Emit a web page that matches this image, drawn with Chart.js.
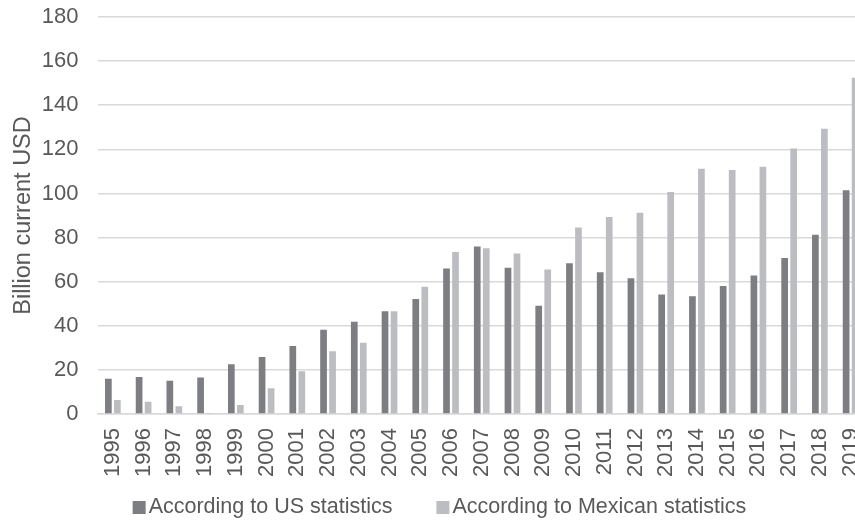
<!DOCTYPE html>
<html>
<head>
<meta charset="utf-8">
<title>US–Mexico trade statistics</title>
<script src="https://cdn.jsdelivr.net/npm/chart.js@4/dist/chart.umd.min.js"></script>
<style>
  html, body { margin: 0; padding: 0; background: #ffffff; overflow: hidden; }
  #wrap { position: relative; width: 866px; height: 522px; }
</style>
</head>
<body>
<div id="wrap"><canvas id="chart"></canvas></div>
<script>
// Years on the category axis
const years = ['1995','1996','1997','1998','1999','2000','2001','2002','2003','2004',
               '2005','2006','2007','2008','2009','2010','2011','2012','2013','2014',
               '2015','2016','2017','2018','2019'];

// Billion current USD, as reported by each side
const usStats  = [16.0, 16.8, 15.1, 16.5, 22.6, 25.8, 30.8, 38.2, 41.8, 46.6,
                  52.1, 66.0, 76.0, 66.3, 49.1, 68.3, 64.3, 61.5, 54.2, 53.4,
                  58.0, 62.8, 70.7, 81.3, 101.4];
const mexStats = [6.4, 5.6, 3.5, 0.5, 4.1, 11.7, 19.4, 28.5, 32.3, 46.6,
                  57.7, 73.4, 75.1, 72.8, 65.5, 84.6, 89.3, 91.2, 100.6, 111.2,
                  110.6, 112.1, 120.4, 129.3, 152.5];

const seriesNames  = ['According to US statistics', 'According to Mexican statistics'];
const seriesColors = ['#7d7e82', '#bcbdc0'];

const yMin = 0, yMax = 180, yStep = 20;
const yTitle = 'Billion current USD';

const FONT = '"Liberation Sans", Arial, Helvetica, sans-serif';
const TEXT = '#595959';
const GRID = '#d9d9d9';

// Legend row under the axis: small square swatch followed by the series name
const bottomKey = {
  id: 'bottomKey',
  afterDraw(chart) {
    const ctx = chart.ctx;
    ctx.save();
    ctx.font = '21.5px ' + FONT;
    ctx.textBaseline = 'middle';
    ctx.textAlign = 'left';
    const box = 13, gap = 3, itemGap = 44, cy = 507, cx = 439.5;
    const items = chart.data.datasets.map(ds => ({
      label: ds.label, color: ds.backgroundColor, w: ctx.measureText(ds.label).width
    }));
    const total = items.reduce((s, it) => s + box + gap + it.w, 0) + itemGap * (items.length - 1);
    let x = cx - total / 2;
    items.forEach(it => {
      ctx.fillStyle = it.color;
      ctx.fillRect(x, cy - 6, box, box);
      ctx.fillStyle = TEXT;
      ctx.fillText(it.label, x + box + gap, cy);
      x += box + gap + it.w + itemGap;
    });
    ctx.restore();
  }
};

new Chart(document.getElementById('chart'), {
  type: 'bar',
  data: {
    labels: years,
    datasets: [
      { label: seriesNames[0], data: usStats,  backgroundColor: seriesColors[0],
        categoryPercentage: 0.586, barPercentage: 0.744, borderWidth: 0 },
      { label: seriesNames[1], data: mexStats, backgroundColor: seriesColors[1],
        categoryPercentage: 0.586, barPercentage: 0.744, borderWidth: 0 }
    ]
  },
  options: {
    responsive: true,
    maintainAspectRatio: false,
    animation: false,
    layout: { padding: { top: 17, right: 0, bottom: 38, left: 0 } },
    plugins: {
      legend: { display: false },
      tooltip: { enabled: false }
    },
    scales: {
      x: {
        grid: { display: false, drawTicks: false },
        border: { display: true, color: GRID, width: 1.5 },
        ticks: {
          color: TEXT, font: { family: FONT, size: 22 },
          minRotation: 90, maxRotation: 90, padding: 14, autoSkip: false
        },
        afterFit(scale) {
          scale.height = 70;
          scale.paddingLeft = 0;
          scale.paddingRight = 0;
        }
      },
      y: {
        min: yMin, max: yMax,
        ticks: { stepSize: yStep, color: TEXT, font: { family: FONT, size: 22 }, padding: 19 },
        grid: { color: GRID, lineWidth: 1.5, drawTicks: false },
        border: { display: false },
        title: {
          display: true, text: yTitle, color: TEXT,
          font: { family: FONT, size: 23.5 }, padding: { top: 9, bottom: 0 }
        },
        afterFit(scale) {
          scale.width = 97.5;
          scale.paddingTop = 0;
          scale.paddingBottom = 0;
        }
      }
    }
  },
  plugins: [bottomKey]
});
</script>
</body>
</html>
